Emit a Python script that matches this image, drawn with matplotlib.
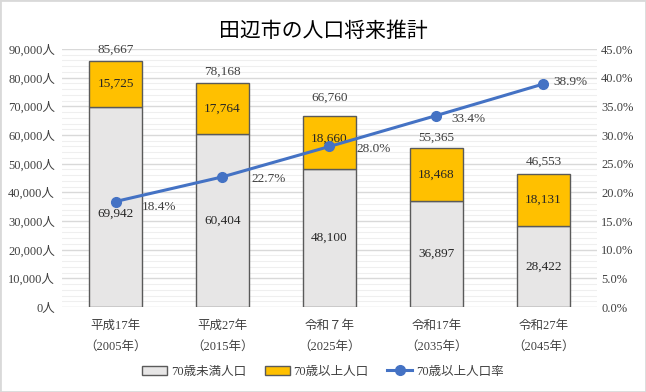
import matplotlib
matplotlib.use("Agg")
import matplotlib.pyplot as plt
import numpy as np
from matplotlib.patches import Rectangle
from matplotlib.ticker import FuncFormatter, MultipleLocator

plt.rcParams['font.family'] = ['Liberation Serif', 'Noto Sans CJK JP']

# data
years = ["平成17年\n（2005年）", "平成27年\n（2015年）", "令和７年\n（2025年）",
         "令和17年\n（2035年）", "令和27年\n（2045年）"]
under70 = [69942, 60404, 48100, 36897, 28422]
over70 = [15725, 17764, 18660, 18468, 18131]
totals = [85667, 78168, 66760, 55365, 46553]
rate = [18.4, 22.7, 28.0, 33.4, 38.9]

gray = "#E7E6E6"
gold = "#FFC000"
blue = "#4472C4"
edge = "#5A5A5A"

fig = plt.figure(figsize=(6.46, 3.92), dpi=100)
ax = fig.add_axes([0.096, 0.2168, 0.828, 0.6582])
ax2 = ax.twinx()

x = np.arange(len(years))
b1 = ax.bar(x, under70, width=0.5, color=gray, edgecolor=edge, linewidth=1.0,
            label="70歳未満人口", zorder=3)
b2 = ax.bar(x, over70, width=0.5, bottom=under70, color=gold, edgecolor=edge,
            linewidth=1.0, label="70歳以上人口", zorder=3)

ax.set_ylim(0, 90000)
ax.set_xlim(-0.5, len(years) - 0.5)
ax.yaxis.set_major_locator(MultipleLocator(10000))
ax.yaxis.set_minor_locator(MultipleLocator(2000))
ax.yaxis.set_major_formatter(FuncFormatter(lambda v, p: "{:,.0f}人".format(v)))
ax.grid(axis='y', which='major', color="#D9D9D9", linewidth=1.0, zorder=0)
ax.grid(axis='y', which='minor', color="#EFEFEF", linewidth=0.8, zorder=0)
ax.set_axisbelow(True)
ax.tick_params(axis='y', which='both', length=0, labelsize=9, colors="#404040", pad=5)
ax.tick_params(axis='x', length=0, labelsize=9, colors="#404040", pad=9)
ax.set_xticks(x)
ax.set_xticklabels(years, linespacing=2.0)
for s in ax.spines.values():
    s.set_visible(False)
for s in ax2.spines.values():
    s.set_visible(False)

# bar labels
under_dy = [-7, 0, 0, 0, 0]
over_dy = [0, 0, 4, 0, 0]
for i in range(len(x)):
    ax.annotate("{:,}".format(under70[i]), (x[i], under70[i] / 2), xytext=(0, under_dy[i] / 1.39),
                textcoords='offset points', ha='center', va='center', fontsize=9.5, color="#262626", zorder=5)
    ax.annotate("{:,}".format(over70[i]), (x[i], under70[i] + over70[i] / 2), xytext=(0, over_dy[i] / 1.39),
                textcoords='offset points', ha='center', va='center', fontsize=9.5, color="#262626", zorder=5)
total_dy = [12, 11, 18, 11, 12]
for i in range(len(x)):
    ax.annotate("{:,}".format(totals[i]), (x[i], totals[i]), xytext=(0, total_dy[i] / 1.39),
                textcoords='offset points', ha='center', va='center', fontsize=9.5, color="#404040")

# rate line
ax2.set_ylim(0, 45)
ax2.yaxis.set_major_locator(MultipleLocator(5))
ax2.yaxis.set_major_formatter(FuncFormatter(lambda v, p: "{:.1f}%".format(v)))
ax2.tick_params(axis='y', length=0, labelsize=9, colors="#404040", pad=3)
ln, = ax2.plot(x, rate, color=blue, linewidth=2.2, marker='o', markersize=7,
               label="70歳以上人口率", zorder=6)
rate_dx = [26, 29, 27, 15, 10]
rate_dy = [-5, -2, -3, -3, 2]
for i in range(len(x)):
    ax2.annotate("{:.1f}%".format(rate[i]), (x[i], rate[i]),
                 xytext=(rate_dx[i] / 1.39, rate_dy[i] / 1.39), textcoords='offset points',
                 ha='left', va='center', fontsize=9.5, color="#404040")

fig.text(0.5, 0.918, "田辺市の人口将来推計", ha='center', va='center', fontsize=15, color="#000000")

fig.legend(handles=[b1, b2, ln], loc='center', bbox_to_anchor=(0.5, 0.052), ncol=3,
           frameon=False, fontsize=9, handlelength=2.0, handleheight=0.8, columnspacing=1.5,
           handletextpad=0.3, labelcolor="#404040")

fig.patches.append(Rectangle((0, 0), 1, 1, transform=fig.transFigure, fill=False,
                             edgecolor="#D9D9D9", linewidth=2))

fig.savefig("out.png", dpi=100)
